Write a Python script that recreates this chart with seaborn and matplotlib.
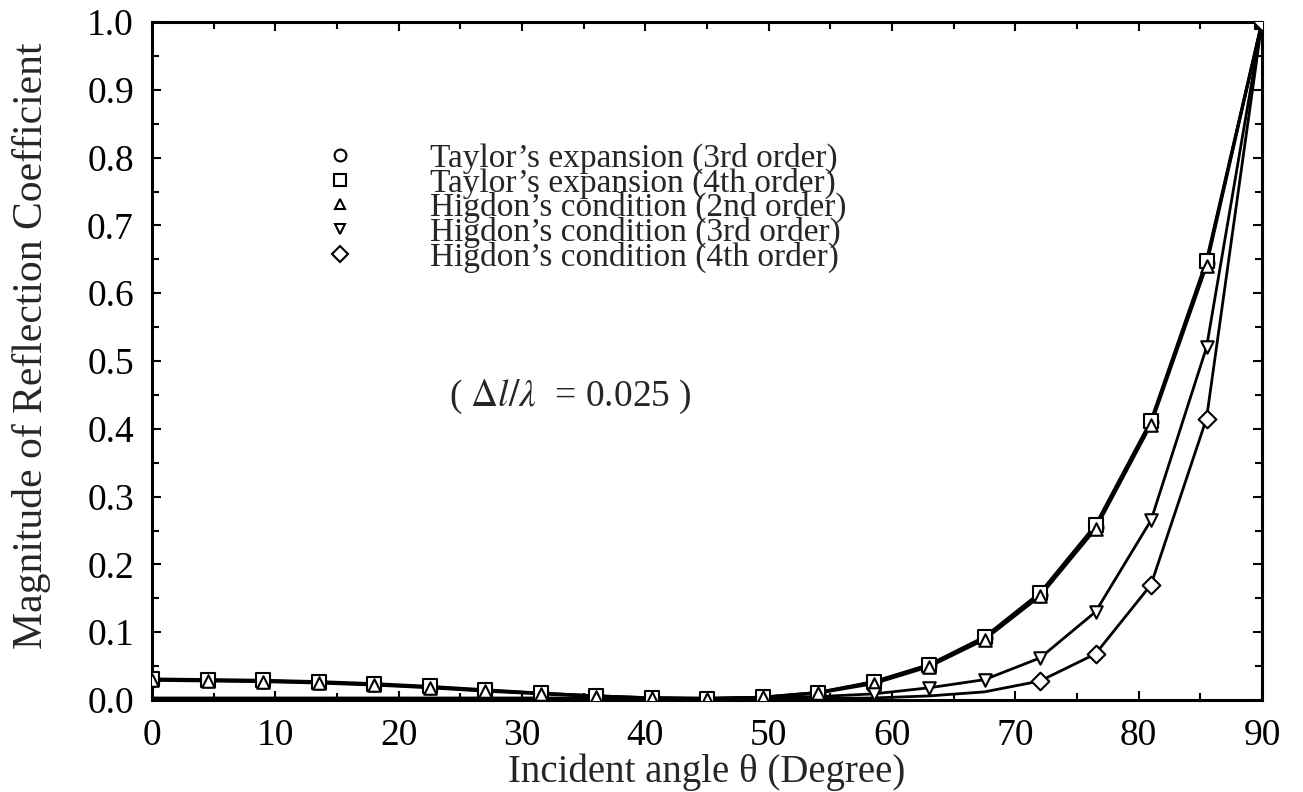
import numpy as np
import pandas as pd
import seaborn as sns
import matplotlib.pyplot as plt
from matplotlib.lines import Line2D
from matplotlib.ticker import MultipleLocator

# incident angles (degree) where the curves were sampled
angles = [0, 4.5, 9, 13.5, 18, 22.5, 27, 31.5, 36, 40.5, 45,
          49.5, 54, 58.5, 63, 67.5, 72, 76.5, 81, 85.5, 90]

taylor_3rd = [0.030, 0.029, 0.028, 0.026, 0.023, 0.019, 0.014, 0.010, 0.006, 0.003, 0.002,
              0.004, 0.011, 0.026, 0.051, 0.091, 0.155, 0.255, 0.410, 0.645, 1.0]
taylor_4th = [0.031, 0.030, 0.029, 0.027, 0.024, 0.020, 0.015, 0.010, 0.006, 0.003, 0.002,
              0.004, 0.011, 0.027, 0.052, 0.093, 0.158, 0.258, 0.412, 0.648, 1.0]
higdon_2nd = [0.029, 0.028, 0.027, 0.025, 0.022, 0.018, 0.013, 0.009, 0.005, 0.003, 0.002,
              0.004, 0.010, 0.024, 0.049, 0.089, 0.153, 0.252, 0.406, 0.640, 1.0]
higdon_3rd = [0.003, 0.003, 0.003, 0.003, 0.003, 0.003, 0.003, 0.003, 0.003, 0.003, 0.003,
              0.003, 0.005, 0.009, 0.018, 0.030, 0.062, 0.130, 0.265, 0.520, 1.0]
higdon_4th = [0.002, 0.002, 0.002, 0.002, 0.002, 0.002, 0.002, 0.002, 0.002, 0.002, 0.002,
              0.002, 0.002, 0.003, 0.006, 0.012, 0.028, 0.068, 0.170, 0.415, 1.0]

labels = ["Taylor\u2019s expansion (3rd order)",
          "Taylor\u2019s expansion (4th order)",
          "Higdon\u2019s condition (2nd order)",
          "Higdon\u2019s condition (3rd order)",
          "Higdon\u2019s condition (4th order)"]
marker_shapes = ["o", "s", "^", "v", "D"]
marker_sizes = [10, 10, 9, 9, 9]
# first angle where the open symbols are drawn (below it they sit on the axis)
marker_start = [0, 0, 0, 58.5, 72]
line_widths = [2.2, 2.2, 2.0, 2.0, 2.0]

series = [taylor_3rd, taylor_4th, higdon_2nd, higdon_3rd, higdon_4th]
df = pd.concat([pd.DataFrame({"angle": angles, "R": vals, "method": lab})
                for vals, lab in zip(series, labels)], ignore_index=True)

sns.set_theme(style="ticks")
plt.rcParams["font.family"] = ["Liberation Serif", "DejaVu Serif"]
plt.rcParams["mathtext.fontset"] = "stix"

fig = plt.figure(figsize=(13.03, 7.92), dpi=100)
ax = fig.add_axes([152 / 1303, 1 - 700 / 792, 1110 / 1303, 678 / 792])

for lab, lw in zip(labels, line_widths):
    sns.lineplot(data=df[df["method"] == lab], x="angle", y="R", ax=ax,
                 color="black", linewidth=lw, legend=False, zorder=2)

for lab, m, ms, start in zip(labels, marker_shapes, marker_sizes, marker_start):
    sub = df[(df["method"] == lab) & (df["angle"] >= start)]
    sns.scatterplot(data=sub, x="angle", y="R", ax=ax, marker=m, s=ms ** 2,
                    color="white", edgecolor="black", linewidth=1.5,
                    legend=False, zorder=3)

ax.set_xlim(0, 90)
ax.set_ylim(0, 1.0)
ax.xaxis.set_major_locator(MultipleLocator(10))
ax.xaxis.set_minor_locator(MultipleLocator(5))
ax.yaxis.set_major_locator(MultipleLocator(0.1))
ax.yaxis.set_minor_locator(MultipleLocator(0.05))
ax.yaxis.set_major_formatter(lambda v, p: f"{v:.1f}")
ax.tick_params(which="both", direction="in", top=True, right=True,
               width=1.5, labelsize=27, pad=13, colors="black")
ax.tick_params(which="major", length=6.5)
ax.tick_params(which="minor", length=5)
for sp in ax.spines.values():
    sp.set_linewidth(2.2)
    sp.set_color("black")

ax.set_xlabel("Incident angle \u03b8 (Degree)", fontsize=28)
ax.xaxis.set_label_coords(0.5, -(772 - 700) / 678)
ax.set_ylabel("Magnitude of Reflection Coefficient", fontsize=30)
ax.yaxis.set_label_coords(-(152 - 32) / 1110, 0.522)
ax.xaxis.label.set_va("center")
ax.yaxis.label.set_va("center")

handles = [Line2D([], [], ls="", marker=m, markersize=ms * 0.85, markerfacecolor="white",
                  markeredgecolor="black", markeredgewidth=1.5)
           for m, ms in zip(marker_shapes, marker_sizes)]
ax.legend(handles, labels, loc="upper left", bbox_to_anchor=(323 / 1303, 1 - 143 / 792),
          bbox_transform=fig.transFigure, frameon=False, fontsize=24,
          handlelength=1.0, handletextpad=2.2, labelspacing=-0.2, borderpad=0,
          borderaxespad=0)

ax.text(0.377, 0.447, r"( $\Delta l/\lambda$  = 0.025 )", transform=ax.transAxes,
        fontsize=27, ha="center", va="center")

fig.savefig("out.png", dpi=100)
